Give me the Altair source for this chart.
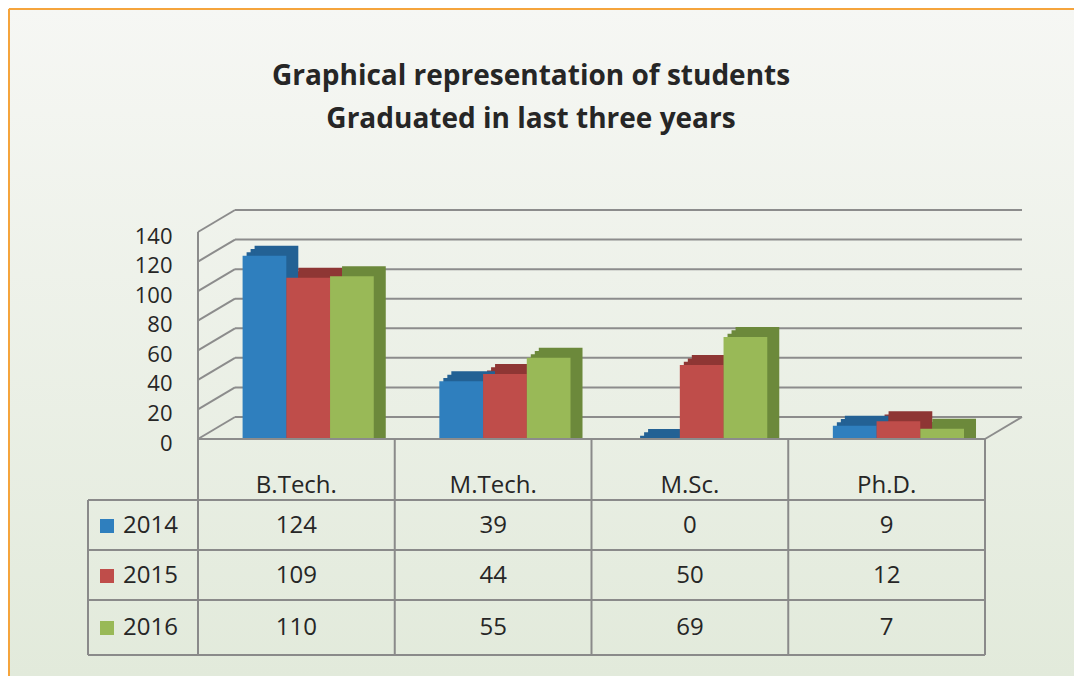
import altair as alt
import pandas as pd

# ---------------- data ----------------
categories = ["B.Tech.", "M.Tech.", "M.Sc.", "Ph.D."]
years = ["2014", "2015", "2016"]
values_2014 = [124, 39, 0, 9]
values_2015 = [109, 44, 50, 12]
values_2016 = [110, 55, 69, 7]
y_ticks = [0, 20, 40, 60, 80, 100, 120, 140]
title_lines = ["Graphical representation of students", "Graduated in last three years"]

# ---------------- styles / layout ----------------
front_colors = ["#2f7fbe", "#bf4d4a", "#99b957"]
side_colors = ["#236194", "#8e3634", "#6c893b"]
GRID = "#8c8c8c"
TABLE = "#8a8a8a"
TEXT = "#262626"
FONT = "Open Sans"

W, H = 787, 423
ZERO_PX = 207                      # pixels from plot top to value 0
PX_PER_UNIT = ZERO_PX / 140
Y_MIN = -(H - ZERO_PX) / PX_PER_UNIT
PAD_L, PAD_T, PAD_R, PAD_B = 190, 224, 89, 21
DEPTH_X, DEPTH_Y = 37, 22          # wall / floor depth


def below(px):
    """value sitting px pixels below the zero line"""
    return -px / PX_PER_UNIT


rows = []
for yr, vals in zip(years, [values_2014, values_2015, values_2016]):
    for c, val in zip(categories, vals):
        rows.append({"cat": c, "year": yr, "value": val})
df = pd.DataFrame(rows)
row_center = {"2014": below(87), "2015": below(137), "2016": below(189)}
df["row_y"] = df["year"].map(row_center)
years_df = pd.DataFrame({"year": years, "row_y": [row_center[y] for y in years]})
cats_df = pd.DataFrame({"cat": categories})
ticks_df = pd.DataFrame({"t": y_ticks})
hlines_df = pd.DataFrame({"b": [below(61), below(111), below(161), below(216)]})
one = pd.DataFrame({"k": [0]})
title_df = pd.DataFrame({"t": ["\n".join(title_lines)]})

x_scale = alt.Scale(domain=categories, paddingInner=0, paddingOuter=0)
y_scale = alt.Scale(domain=[Y_MIN, 140], nice=False, zero=False)
X = alt.X("cat:N", scale=x_scale, axis=None, title=None)

band = W / len(categories)
step = band / 4.5
outer = band - 3 * step
BASE_LEFT = 0.68 * outer


def offset_scale(shift):
    return alt.Scale(domain=years, paddingInner=0, paddingOuter=0.75,
                     align=(BASE_LEFT + shift) / outer)


# ---------------- background & frame ----------------
bg = alt.Chart(one).mark_rect(
    fill=alt.LinearGradient(gradient="linear", x1=0, x2=0, y1=0, y2=1,
                            stops=[alt.GradientStop(offset=0, color="#f6f7f4"),
                                   alt.GradientStop(offset=1, color="#e2eadb")])
).encode(x=alt.value(-PAD_L), x2=alt.value(W + PAD_R),
         y=alt.value(-PAD_T), y2=alt.value(H + PAD_B))

border_top = alt.Chart(one).mark_rule(color="#f5a43c", strokeWidth=2).encode(
    x=alt.value(-PAD_L + 1), x2=alt.value(W + PAD_R), y=alt.value(-PAD_T + 1))
border_left = alt.Chart(one).mark_rule(color="#f5a43c", strokeWidth=2).encode(
    x=alt.value(-PAD_L + 1), y=alt.value(-PAD_T + 1), y2=alt.value(H + PAD_B))

title = alt.Chart(title_df).mark_text(
    font=FONT, fontSize=28, fontWeight="bold", lineBreak="\n", lineHeight=43,
    color=TEXT, align="center", baseline="middle"
).encode(text="t:N", x=alt.value(333), y=alt.value(-155))

# ---------------- y axis (labels only) ----------------
axis_layer = alt.Chart(ticks_df).mark_point(opacity=0, size=1).encode(
    x=alt.value(0),
    y=alt.Y("t:Q", scale=y_scale, title=None,
            axis=alt.Axis(values=y_ticks, grid=False, domain=False, ticks=False,
                          labelFontSize=22, labelFont=FONT, labelColor=TEXT,
                          labelPadding=26, labelOffset=4, labelOverlap=False,
                          zindex=2)),
)

# ---------------- 3D-ish walls ----------------
back_grid = alt.Chart(ticks_df).mark_rule(color=GRID, strokeWidth=2, yOffset=-DEPTH_Y,
                                          y2Offset=-DEPTH_Y).encode(
    y=alt.Y("t:Q", scale=y_scale, axis=None), y2=alt.Y2("t:Q"),
    x=alt.value(DEPTH_X), x2=alt.value(W + DEPTH_X))
wall_grid = alt.Chart(ticks_df).mark_rule(color=GRID, strokeWidth=2, y2Offset=-DEPTH_Y).encode(
    y=alt.Y("t:Q", scale=y_scale, axis=None), y2=alt.Y2("t:Q"),
    x=alt.value(0), x2=alt.value(DEPTH_X))
wall_front = alt.Chart(one).mark_rule(color=GRID, strokeWidth=2).encode(
    x=alt.value(0), y=alt.Y(datum=0, scale=y_scale, axis=None), y2=alt.Y2(datum=140))
floor_front = alt.Chart(one).mark_rule(color=GRID, strokeWidth=2).encode(
    x=alt.value(0), x2=alt.value(W), y=alt.Y(datum=0, scale=y_scale, axis=None))
floor_right = alt.Chart(one).mark_rule(color=GRID, strokeWidth=2, y2Offset=-DEPTH_Y).encode(
    x=alt.value(W), x2=alt.value(W + DEPTH_X),
    y=alt.Y(datum=0, scale=y_scale, axis=None), y2=alt.Y2(datum=0))

# ---------------- bars ----------------
shadow_layers = []
for k in [4, 8, 12]:
    shadow_layers.append(
        alt.Chart(df).mark_bar(yOffset=-k * 10 / 12).encode(
            x=X,
            xOffset=alt.XOffset("year:N", scale=offset_scale(k)),
            y=alt.Y("value:Q", scale=y_scale, stack=None, axis=None),
            color=alt.Color("year:N", scale=alt.Scale(domain=years, range=side_colors), legend=None),
        )
    )

front = alt.Chart(df).mark_bar().encode(
    x=X,
    xOffset=alt.XOffset("year:N", scale=offset_scale(0)),
    y=alt.Y("value:Q", scale=y_scale, stack=None, axis=None),
    color=alt.Color("year:N", scale=alt.Scale(domain=years, range=front_colors), legend=None),
)

# ---------------- data table ----------------
hlines = alt.Chart(hlines_df).mark_rule(color=TABLE, strokeWidth=2).encode(
    y=alt.Y("b:Q", scale=y_scale, axis=None), x=alt.value(-110), x2=alt.value(W))
vlines = alt.Chart(cats_df).mark_rule(color=TABLE, strokeWidth=2).encode(
    x=alt.X("cat:N", scale=x_scale, axis=None, bandPosition=0),
    y=alt.Y(datum=0, scale=y_scale, axis=None), y2=alt.Y2(datum=Y_MIN))
vline_end = alt.Chart(cats_df.tail(1)).mark_rule(color=TABLE, strokeWidth=2).encode(
    x=alt.X("cat:N", scale=x_scale, axis=None, bandPosition=1),
    y=alt.Y(datum=0, scale=y_scale, axis=None), y2=alt.Y2(datum=Y_MIN))
vline_left = alt.Chart(one).mark_rule(color=TABLE, strokeWidth=2).encode(
    x=alt.value(-110),
    y=alt.Y(datum=below(61), scale=y_scale, axis=None), y2=alt.Y2(datum=Y_MIN))

head_text = alt.Chart(cats_df).mark_text(font=FONT, fontSize=24, color=TEXT, baseline="middle").encode(
    x=X, y=alt.Y(datum=below(47), scale=y_scale, axis=None), text="cat:N")
val_text = alt.Chart(df).mark_text(font=FONT, fontSize=24, color=TEXT, baseline="middle").encode(
    x=X, y=alt.Y("row_y:Q", scale=y_scale, axis=None), text="value:Q")
swatch = alt.Chart(years_df).mark_square(size=196, opacity=1).encode(
    x=alt.value(-91), y=alt.Y("row_y:Q", scale=y_scale, axis=None),
    color=alt.Color("year:N", scale=alt.Scale(domain=years, range=front_colors), legend=None))
year_text = alt.Chart(years_df).mark_text(font=FONT, fontSize=24, color=TEXT, align="left",
                                          baseline="middle").encode(
    x=alt.value(-75), y=alt.Y("row_y:Q", scale=y_scale, axis=None), text="year:N")

chart = alt.layer(
    bg, border_top, border_left, title, axis_layer,
    back_grid, wall_grid, wall_front, floor_right,
    *shadow_layers, front,
    floor_front, hlines, vlines, vline_end, vline_left,
    head_text, val_text, swatch, year_text,
).resolve_scale(
    xOffset="independent", color="independent"
).resolve_axis(
    y="independent"
).properties(
    width=W, height=H,
    autosize=alt.AutoSizeParams(type="none"),
    padding={"left": PAD_L, "top": PAD_T, "right": PAD_R, "bottom": PAD_B},
    background="#eef2ea",
).configure_view(strokeWidth=0).configure(font=FONT)

chart.save("out.html", embed_options={"renderer": "svg", "actions": False})
